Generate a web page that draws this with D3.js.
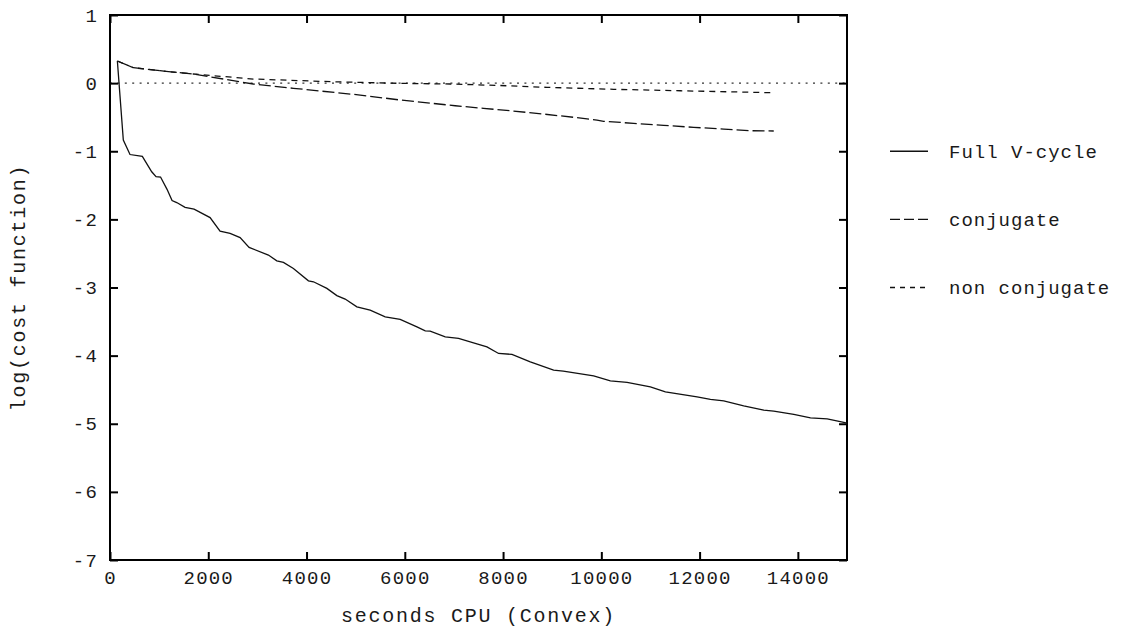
<!DOCTYPE html>
<html>
<head>
<meta charset="utf-8">
<script src="https://cdn.jsdelivr.net/npm/d3@7"></script>
<style>
  html, body { margin: 0; padding: 0; background: #fff; }
  svg { display: block; }
  text { font-family: "Liberation Mono", "DejaVu Sans Mono", monospace; fill: #1a1a1a; }
</style>
</head>
<body>
<svg id="chart" width="1130" height="630"></svg>
<script>
// Convergence of the cost function against CPU time (Convex)
const xTicks = [0, 2000, 4000, 6000, 8000, 10000, 12000, 14000];
const yTicks = [1, 0, -1, -2, -3, -4, -5, -6, -7];

// Full V-cycle (solid)
const fullTime = [150, 271, 407, 658, 849, 937, 1029, 1161, 1263, 1358, 1528, 1711, 2037, 2240, 2444, 2648,
  2831, 3224, 3395, 3530, 3733, 4039, 4141, 4414, 4617, 4786, 5025, 5295, 5601, 5906, 6247, 6416, 6517,
  6823, 7094, 7399, 7672, 7909, 8181, 8554, 9029, 9226, 9843, 10184, 10524, 10998, 11304, 11949, 12220,
  12491, 12898, 13306, 13509, 13917, 14257, 14597, 14935, 15000];
const fullCost = [0.325, -0.836, -1.048, -1.075, -1.301, -1.374, -1.379, -1.559, -1.724, -1.753, -1.824,
  -1.849, -1.974, -2.172, -2.206, -2.267, -2.411, -2.524, -2.608, -2.631, -2.720, -2.902, -2.916, -3.013,
  -3.119, -3.170, -3.283, -3.332, -3.430, -3.468, -3.577, -3.636, -3.640, -3.724, -3.747, -3.812, -3.871,
  -3.968, -3.982, -4.091, -4.213, -4.228, -4.297, -4.370, -4.394, -4.458, -4.532, -4.605, -4.643, -4.664,
  -4.737, -4.800, -4.815, -4.863, -4.913, -4.928, -4.981, -4.991];

// conjugate (long dashes)
const conjTime = [150, 475, 1018, 1690, 2918, 3733, 5092, 5906, 7026, 7603, 8214, 8825, 9436, 9912, 10047,
  10658, 11269, 11880, 12491, 13035, 13509];
const conjCost = [0.325, 0.226, 0.182, 0.134, -0.013, -0.076, -0.175, -0.248, -0.332, -0.370, -0.410, -0.454,
  -0.502, -0.542, -0.561, -0.590, -0.620, -0.649, -0.674, -0.699, -0.703];

// non conjugate (short dashes)
const nonConjTime = [150, 475, 1018, 1690, 2918, 4542, 5906, 6925, 7943, 8894, 10251, 11609, 13509];
const nonConjCost = [0.325, 0.226, 0.182, 0.134, 0.060, 0.020, -0.003, -0.013, -0.035, -0.062, -0.091, -0.112, -0.141];

const seriesNames = ["Full V-cycle", "conjugate", "non conjugate"];
const dashes = [null, "12,4", "6,5"];

const svg = d3.select("#chart");
const plotL = 110, plotR = 847, plotT = 15, plotB = 560;

const x = d3.scaleLinear().domain([0, 15000]).range([plotL, plotR]);
const y = d3.scaleLinear().domain([-7, 1]).range([plotB, plotT]);

const tickFont = 19;

// zero axis (dotted)
svg.append("line")
  .attr("x1", x(0)).attr("x2", x(15000))
  .attr("y1", y(0)).attr("y2", y(0))
  .attr("stroke", "#333").attr("stroke-width", 1.2)
  .attr("stroke-dasharray", "2,5.4");

// axes with inward ticks
function styleAxis(g) {
  g.select(".domain").remove();
  g.selectAll(".tick line").attr("stroke", "#000").attr("stroke-width", 2);
  g.selectAll(".tick text")
    .style("font-size", tickFont + "px")
    .style("letter-spacing", "1.2px")
    .attr("fill", "#1a1a1a");
}

svg.append("g").attr("transform", `translate(0,${plotB})`)
  .call(d3.axisBottom(x).tickValues(xTicks).tickSize(-8).tickPadding(10.5).tickFormat(d3.format("d")))
  .call(styleAxis);
svg.append("g").attr("transform", `translate(0,${plotT})`)
  .call(d3.axisTop(x).tickValues(xTicks).tickSize(-8).tickFormat(""))
  .call(styleAxis);
svg.append("g").attr("transform", `translate(${plotL},0)`)
  .call(d3.axisLeft(y).tickValues(yTicks).tickSize(-8).tickPadding(12).tickFormat(d => String(d)))
  .call(styleAxis);
svg.append("g").attr("transform", `translate(${plotR},0)`)
  .call(d3.axisRight(y).tickValues(yTicks).tickSize(-8).tickFormat(""))
  .call(styleAxis);

// frame
svg.append("rect")
  .attr("x", plotL).attr("y", plotT)
  .attr("width", plotR - plotL).attr("height", plotB - plotT)
  .attr("fill", "none").attr("stroke", "#000").attr("stroke-width", 2);

// series
const line = d3.line().x(d => x(d[0])).y(d => y(d[1]));
const series = [
  d3.zip(fullTime, fullCost),
  d3.zip(conjTime, conjCost),
  d3.zip(nonConjTime, nonConjCost)
];
series.forEach((pts, i) => {
  svg.append("path")
    .datum(pts)
    .attr("d", line)
    .attr("fill", "none")
    .attr("stroke", "#111")
    .attr("stroke-width", 1.3)
    .attr("stroke-dasharray", dashes[i]);
});

// legend
const legendY = [y(-1), y(-2), y(-3)];
seriesNames.forEach((name, i) => {
  svg.append("line")
    .attr("x1", 890).attr("x2", 928)
    .attr("y1", legendY[i]).attr("y2", legendY[i])
    .attr("stroke", "#111").attr("stroke-width", 1.3)
    .attr("stroke-dasharray", i === 0 ? null : (i === 1 ? "10,4" : "5,5"));
  svg.append("text")
    .attr("x", 949).attr("y", legendY[i])
    .attr("dy", "0.35em")
    .style("font-size", "19px")
    .style("letter-spacing", "1px")
    .text(name);
});

// axis titles
svg.append("text")
  .attr("x", (plotL + plotR) / 2).attr("y", 622)
  .attr("text-anchor", "middle")
  .style("font-size", "20px")
  .style("letter-spacing", "1.75px")
  .text("seconds CPU (Convex)");

svg.append("text")
  .attr("transform", `translate(25,${(plotT + plotB) / 2}) rotate(-90)`)
  .attr("text-anchor", "middle")
  .style("font-size", "20px")
  .style("letter-spacing", "1.75px")
  .text("log(cost function)");
</script>
</body>
</html>
